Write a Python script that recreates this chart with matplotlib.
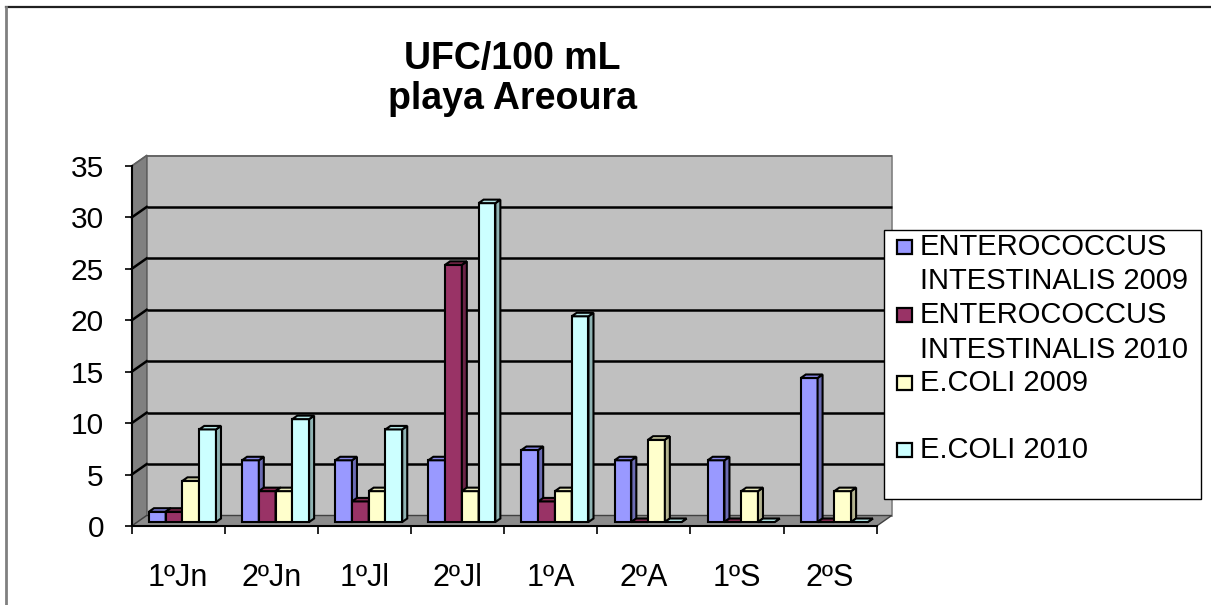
import matplotlib
matplotlib.use("Agg")
import matplotlib.pyplot as plt
from matplotlib.patches import Polygon, Rectangle

plt.rcParams['font.family'] = ['Liberation Sans', 'DejaVu Sans']

# ---- data ----
categories = ["1ºJn", "2ºJn", "1ºJl", "2ºJl", "1ºA", "2ºA", "1ºS", "2ºS"]
series_names = ["ENTEROCOCCUS\nINTESTINALIS 2009",
                "ENTEROCOCCUS\nINTESTINALIS 2010",
                "E.COLI 2009",
                "E.COLI 2010"]
entero_2009 = [1, 6, 6, 6, 7, 6, 6, 14]
entero_2010 = [1, 3, 2, 25, 2, 0, 0, 0]
ecoli_2009 = [4, 3, 3, 3, 3, 8, 3, 3]
ecoli_2010 = [9, 10, 9, 31, 20, 0, 0, 0]
series_values = [entero_2009, entero_2010, ecoli_2009, ecoli_2010]
y_ticks = [0, 5, 10, 15, 20, 25, 30, 35]

# face colours: front, top, side
front_colors = ["#9999FF", "#993366", "#FFFFCC", "#CCFFFF"]
top_colors = ["#8585E6", "#84294F", "#E6E6B8", "#B3E6E6"]
side_colors = ["#6B6BB3", "#6B2447", "#B3B38F", "#8FB3B3"]

W, H = 1211, 605
fig = plt.figure(figsize=(W / 100, H / 100), dpi=100)
fig.patch.set_facecolor("white")

# front plane of the plot area, in pixels
x_left, x_right = 131.7, 876.7
y_zero, y_top = 526.0, 166.0
ax = fig.add_axes([x_left / W, 1 - y_zero / H,
                   (x_right - x_left) / W, (y_zero - y_top) / H])
n = len(categories)
ymax = 35
ax.set_xlim(0, n)
ax.set_ylim(0, ymax)
ax.set_facecolor("none")

px_x = (x_right - x_left) / n      # pixels per category
px_y = (y_zero - y_top) / ymax     # pixels per unit


def dx(p):
    return p / px_x


def dy(p):
    return p / px_y


# depth of the walls
wdx, wdy = dx(15), dy(10.5)

# back wall
ax.add_patch(Rectangle((wdx, wdy), n, ymax, facecolor="#C0C0C0",
                       edgecolor="#808080", lw=1.2, clip_on=False, zorder=0.5))
# left side wall
ax.add_patch(Polygon([(0, 0), (wdx, wdy), (wdx, ymax + wdy), (0, ymax)],
                     closed=True, facecolor="#808080", edgecolor="#606060",
                     lw=1, clip_on=False, zorder=0.6))
# floor
ax.add_patch(Polygon([(0, 0), (n, 0), (n + wdx, wdy), (wdx, wdy)],
                     closed=True, facecolor="#8C8C8C", edgecolor="#404040",
                     lw=1, clip_on=False, zorder=0.6))

# gridlines on back wall and side wall
for v in y_ticks[1:]:
    lw = 1.8 if v < ymax else 1.2
    col = "black" if v < ymax else "#606060"
    ax.plot([wdx, n + wdx], [v + wdy, v + wdy], color=col, lw=lw,
            clip_on=False, zorder=0.8, solid_capstyle="butt")
    ax.plot([0, wdx], [v, v + wdy], color=col, lw=lw,
            clip_on=False, zorder=0.8)

# bars
bar_w = 0.18
ox, oy = dx(4.2), dy(4.0)          # bar front offset into depth
bdx, bdy = dx(5.0), dy(3.5)        # bar depth
edge_lw = 1.5
z = 2.0
for i in range(n):
    for j, vals in enumerate(series_values):
        h = vals[i]
        x0 = i + 0.5 + (j - 2) * bar_w + ox
        x1 = x0 + bar_w
        y0 = oy
        ax.bar(x0, h, width=bar_w, bottom=y0, align="edge",
               color=front_colors[j], edgecolor="black", lw=edge_lw,
               zorder=z, clip_on=False)
        ax.add_patch(Polygon([(x1, y0), (x1 + bdx, y0 + bdy),
                              (x1 + bdx, y0 + h + bdy), (x1, y0 + h)],
                             closed=True, facecolor=side_colors[j],
                             edgecolor="black", lw=edge_lw, clip_on=False,
                             zorder=z + 0.1))
        ax.add_patch(Polygon([(x0, y0 + h), (x1, y0 + h),
                              (x1 + bdx, y0 + h + bdy), (x0 + bdx, y0 + h + bdy)],
                             closed=True, facecolor=top_colors[j],
                             edgecolor="black", lw=edge_lw, clip_on=False,
                             zorder=z + 0.2))
        z += 0.3

# axes lines and ticks
for s in ["top", "right"]:
    ax.spines[s].set_visible(False)
for s in ["left", "bottom"]:
    ax.spines[s].set_color("black")
    ax.spines[s].set_linewidth(1.5)
    ax.spines[s].set_zorder(50)

ax.set_yticks(y_ticks)
ax.set_yticklabels([str(v) for v in y_ticks], fontsize=21.5)
ax.tick_params(axis="y", direction="out", length=5, width=1.2, pad=15)

ax.set_xticks(range(n + 1))
ax.set_xticklabels([""] * (n + 1))
ax.set_xticks([i + 0.5 for i in range(n)], minor=True)
ax.set_xticklabels(categories, minor=True, fontsize=22)
ax.tick_params(axis="x", which="major", direction="out", length=6, width=1.2)
ax.tick_params(axis="x", which="minor", length=0, pad=27)

# title
fig.text(512 / W, 1 - 79 / H, "UFC/100 mL\nplaya Areoura", ha="center",
         va="center", fontsize=27, fontweight="bold", linespacing=1.12)

# legend
fig.add_artist(Rectangle((884 / W, 1 - 499 / H), 317 / W, 269 / H,
                         transform=fig.transFigure, facecolor="white",
                         edgecolor="black", lw=1.0, zorder=10))
entry_y = [247, 315, 383, 450]
for j, name in enumerate(series_names):
    yc = entry_y[j]
    fig.add_artist(Rectangle((897 / W, 1 - (yc + 7) / H), 15 / W, 14 / H,
                             transform=fig.transFigure,
                             facecolor=front_colors[j], edgecolor="black",
                             lw=1.6, zorder=11))
    for k, line in enumerate(name.split("\n")):
        fig.text(920 / W, 1 - (yc + k * 34.5) / H, line, ha="left",
                 va="center", fontsize=21, zorder=12)

# outer chart border (top and left edges)
fig.add_artist(plt.Line2D([6 / W, 1], [1 - 6.5 / H, 1 - 6.5 / H],
                          transform=fig.transFigure, color="#202020", lw=1.6))
fig.add_artist(plt.Line2D([5.5 / W, 5.5 / W], [0, 1 - 6.5 / H],
                          transform=fig.transFigure, color="#808080", lw=2.0))

fig.savefig("out.png", dpi=100, facecolor="white")
